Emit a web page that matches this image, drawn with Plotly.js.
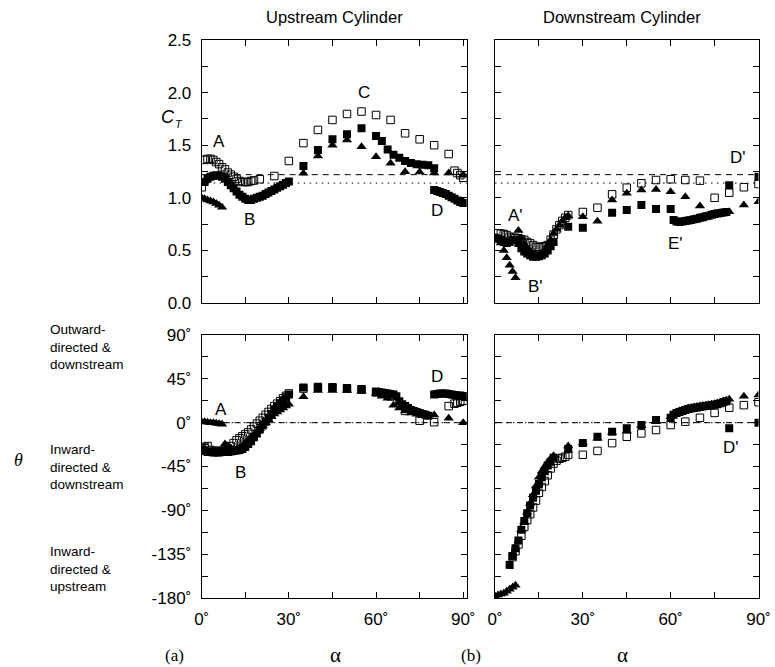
<!DOCTYPE html>
<html><head><meta charset="utf-8">
<script src="https://cdn.plot.ly/plotly-3.0.1.min.js"></script>
<style>html,body{margin:0;padding:0;background:#fff}</style>
</head><body><div id="chart" style="width:775px;height:667px"></div>
<script>
// ---------- DATA ----------
// Upstream cylinder, force coefficient C_T
const usCtOpenA = [0,1,2,3,4,5,6,7,8,9,10,11,12,13,14,15,16,17,18,20,25,30,35,40,45,50,55,60,65,70,75,80,85,87,88,89,90];
const usCtOpen  = [1.10,1.36,1.37,1.37,1.36,1.34,1.32,1.29,1.27,1.24,1.22,1.20,1.18,1.16,1.15,1.15,1.15,1.16,1.165,1.176,1.207,1.35,1.52,1.645,1.74,1.797,1.82,1.787,1.74,1.613,1.556,1.50,1.416,1.258,1.235,1.215,1.19];
const usCtFillA = [1,2,3,4,5,6,7,8,9,10,11,12,13,14,15,16,17,18,19,20,21,22,23,24,25,26,27,28,29,30,35,40,45,50,55,60,62,64,66,68,70,72,74,76,78,80,80,81,82,83,84,85,86,87,88,89,90];
const usCtFill  = [1.15,1.18,1.20,1.21,1.215,1.21,1.20,1.18,1.15,1.12,1.09,1.06,1.03,1.01,0.99,0.98,0.98,0.99,1.00,1.01,1.02,1.035,1.05,1.065,1.08,1.095,1.11,1.125,1.14,1.155,1.302,1.454,1.556,1.603,1.66,1.587,1.54,1.46,1.41,1.38,1.35,1.33,1.32,1.315,1.31,1.28,1.074,1.065,1.055,1.045,1.035,1.02,1.005,0.99,0.975,0.96,0.95];
const usCtTriA  = [0,1,2,3,4,5,6,7,35,40,45,50,55,60,65,70,75,80,85,90];
const usCtTri   = [1.0,0.99,0.98,0.97,0.96,0.945,0.93,0.91,1.233,1.397,1.50,1.55,1.486,1.391,1.328,1.248,1.245,1.235,1.235,1.215];

// Downstream cylinder, C_T
const dsCtOpenA = [1,2,3,4,5,6,7,8,9,10,11,12,13,14,15,16,17,18,19,20,21,22,23,24,25,30,35,40,45,50,55,60,65,70,75,80,85,90];
const dsCtOpen  = [0.662,0.66,0.655,0.646,0.63,0.62,0.62,0.615,0.605,0.60,0.58,0.567,0.55,0.535,0.53,0.535,0.54,0.55,0.60,0.65,0.70,0.74,0.78,0.81,0.836,0.865,0.906,1.033,1.096,1.138,1.169,1.176,1.169,1.163,1.00,1.049,1.10,1.131];
const dsCtFillA = [0,1,2,3,4,5,6,7,8,9,10,11,12,13,14,15,16,17,18,19,20,25,30,40,45,50,55,60,61,62,63,64,65,66,67,68,69,70,71,72,73,74,75,76,77,78,79,80,90];
const dsCtFill  = [0.62,0.61,0.60,0.58,0.57,0.58,0.60,0.60,0.57,0.52,0.49,0.47,0.455,0.44,0.44,0.445,0.455,0.47,0.50,0.54,0.58,0.725,0.716,0.859,0.884,0.932,0.894,0.894,0.79,0.775,0.77,0.775,0.78,0.785,0.79,0.795,0.80,0.81,0.815,0.825,0.83,0.84,0.845,0.85,0.855,0.86,0.865,1.12,1.20];
const dsCtTriA  = [0,1,2,3,4,5,6,7,8,9,10,11,12,13,14,15,16,17,18,19,20,21,22,23,24,25,30,35,40,45,50,55,60,65,70,75,80,85,90];
const dsCtTri   = [0.62,0.60,0.57,0.50,0.43,0.36,0.30,0.24,0.69,0.62,0.56,0.52,0.49,0.47,0.46,0.46,0.47,0.50,0.55,0.60,0.66,0.70,0.74,0.78,0.81,0.83,0.82,0.777,0.979,1.043,1.074,1.08,1.058,1.01,0.922,0.85,0.868,0.932,0.963];

// Upstream cylinder, force angle theta (deg)
const usThOpenA = [0,1,2,3,4,5,6,7,8,9,10,11,12,13,14,15,16,17,18,19,20,21,22,23,24,25,26,27,28,29,30,35,40,45,50,55,60,65,70,75,80,85,87,88,89,90];
const usThOpen  = [-27,-25,-24,-28,-29,-29,-29,-29,-28,-27,-24,-21,-18,-16,-14,-12,-10,-7,-4,-1,2,5,8,11,14,17,19.5,22,25,27.5,30,35,36,36,35,34,31,27,12,2,0.5,17,19.5,20.5,21.5,22.5];
const usThFillA = [0,1,2,3,4,5,6,7,8,9,10,11,12,13,14,15,16,17,18,19,20,21,22,23,24,25,26,27,28,29,30,35,40,45,50,55,60,61,62,63,64,65,66,67,68,69,70,71,72,73,74,75,76,77,78,80,81,82,83,84,85,86,87,88,89,90];
const usThFill  = [-28,-29,-30,-30,-30.5,-30.5,-30.5,-30,-30,-30,-29.5,-29,-28.5,-28,-27,-25,-22,-19,-15,-11,-7,-3,1,5,9,13,16.5,20,23,26,29,36,37,36.5,35.5,34.5,32,31.5,31,30.5,30,29.5,29,27,22,19,17,15,13,12,11,10,9,8,7,29,29.5,30,30,30,29.5,29,28.5,28,28,27.5];
const usThTriA  = [0,1,2,3,4,5,6,7,8,9,10,11,12,13,14,15,16,17,18,19,20,21,22,23,24,25,26,27,28,29,30,35,40,45,50,55,60,62,64,66,68,70,72,74,76,78,80,85,90];
const usThTri   = [1,1,0.5,0,0,-0.5,-1,-1.5,-22,-24,-26,-27,-27,-26,-24,-21,-18,-15,-12,-9,-6,-3,0,3,6,9,11,13,15,17,19,26.7,33,33,33,32,30,27,25,18,15,12,10,8.6,7,6,7.9,4.5,0];

// Downstream cylinder, theta (deg)
const dsThOpenA = [6,7,8,9,10,11,12,13,14,15,16,17,18,19,20,21,22,23,24,25,30,35,40,45,50,55,60,65,70,75,80,85,90];
const dsThOpen  = [-138,-132,-125,-116,-107,-100,-94,-87,-80,-72,-66,-60,-54,-47,-42,-39,-37,-36,-35,-33,-33,-29,-21,-14.5,-11,-7.5,-2.4,1,5,10,15.4,18,21];
const dsThFillA = [5,6,7,8,9,10,11,12,13,14,15,16,17,18,19,20,25,30,35,40,45,50,55,60,61,62,63,64,65,66,67,68,69,70,71,72,73,74,75,76,77,78,79,80,90];
const dsThFill  = [-146,-137,-129,-121,-110,-101,-93,-85,-77,-70,-63,-56,-50,-44,-40,-36,-27,-21,-14.4,-9.2,-5.8,-2.4,2.7,5,8,10,11,12,13,14,14.5,15,15.5,16,16.5,17,17.5,18,18.5,19,20,21,22,-5.8,0];
const dsThTriA  = [0,1,2,3,4,5,6,7,9,10,11,12,13,14,15,16,17,18,19,20,25,30,35,40,45,50,55,60,61,62,63,64,65,66,67,68,69,70,71,72,73,74,75,76,77,78,79,80,85,90];
const dsThTri   = [-178,-177,-176,-175,-173,-171,-169,-167,-110,-102,-92,-83,-74,-65,-56,-50,-45,-41,-37,-34,-24,-21,-16,-10,-8.6,-3,1,6,9,11,12,13,14,15,15.5,16,16.5,17,17.5,18,18.5,19,19.5,20,21,22,23,24,27,28.5];

// Reference levels
const ctRefDashed = 1.22;
const ctRefDotted = 1.14;
const thRef = 0;

// Tick labels
const ctTickVals = [0,0.5,1,1.5,2,2.5];
const ctTickText = ['0.0','0.5','1.0','1.5','2.0','2.5'];
const thTickVals = [-180,-135,-90,-45,0,45,90];
const thTickText = ['-180˚','-135˚','-90˚','-45˚','0˚','45˚','90˚'];
const alphaTickVals = [0,30,60,90];
const alphaTickText = ['0˚','30˚','60˚','90˚'];

// ---------- BUILD ----------
const W = 775, H = 667;
const px = x => x / W, py = y => 1 - y / H;

function sq(xs, ys, xa, ya){ return {x: xs, y: ys, xaxis: xa, yaxis: ya, type:'scatter', mode:'markers',
  marker:{symbol:'square', size:8, color:'#000', line:{width:0}}, hoverinfo:'skip'}; }
function osq(xs, ys, xa, ya){ return {x: xs, y: ys, xaxis: xa, yaxis: ya, type:'scatter', mode:'markers',
  marker:{symbol:'square-open', size:7.5, color:'#000', line:{width:1, color:'#000'}}, hoverinfo:'skip'}; }
function tri(xs, ys, xa, ya){ return {x: xs, y: ys, xaxis: xa, yaxis: ya, type:'scatter', mode:'markers',
  marker:{symbol:'triangle-up', size:9, color:'#000', line:{width:0}}, hoverinfo:'skip'}; }

const data = [
  osq(usCtOpenA, usCtOpen, 'x', 'y'), sq(usCtFillA, usCtFill, 'x', 'y'), tri(usCtTriA, usCtTri, 'x', 'y'),
  osq(dsCtOpenA, dsCtOpen, 'x2', 'y2'), sq(dsCtFillA, dsCtFill, 'x2', 'y2'), tri(dsCtTriA, dsCtTri, 'x2', 'y2'),
  osq(usThOpenA, usThOpen, 'x3', 'y3'), sq(usThFillA, usThFill, 'x3', 'y3'), tri(usThTriA, usThTri, 'x3', 'y3'),
  osq(dsThOpenA, dsThOpen, 'x4', 'y4'), sq(dsThFillA, dsThFill, 'x4', 'y4'), tri(dsThTriA, dsThTri, 'x4', 'y4')
];

const FONT = 'Liberation Sans, Arial, sans-serif';
const SERIF = 'Liberation Serif, Times New Roman, serif';

function xax(dom, anchor, labels, rmax){
  return {domain: dom, anchor: anchor, range:[0, rmax], showline:true, mirror:'ticks', linecolor:'#000', linewidth:1,
    ticks:'inside', ticklen:6, tickwidth:1, tickcolor:'#000', tickvals: alphaTickVals, ticktext: alphaTickText,
    showticklabels: labels, tickfont:{family:FONT, size:17, color:'#000'}, showgrid:false, zeroline:false,
    ticklabelstandoff: 6,
    minor:{dtick:15, tick0:0, ticks:'inside', ticklen:6, tickwidth:1, tickcolor:'#000', showgrid:false}, fixedrange:true};
}
function yax(dom, anchor, range, tv, tt, minorDt, labels){
  return {domain: dom, anchor: anchor, range: range, showline:true, mirror:'ticks', linecolor:'#000', linewidth:1,
    ticks:'inside', ticklen:6, tickwidth:1, tickcolor:'#000', tickvals: tv, ticktext: tt,
    showticklabels: labels, tickfont:{family:FONT, size:17, color:'#000'}, showgrid:false, zeroline:false,
    ticklabelstandoff: 6,
    minor:{dtick:minorDt, tick0:0, ticks:'inside', ticklen:6, tickwidth:1, tickcolor:'#000', showgrid:false}, fixedrange:true};
}

const xL = [px(201.7), px(466.7)], xR = [px(495), px(758.5)];
const yT = [py(303), py(40)], yB = [py(598), py(335)];

function hline(xref, yref, val, dash){
  return {type:'line', xref: xref + ' domain', yref: yref, x0:0, x1:1, y0: val, y1: val,
    line:{color:'#000', width:1, dash: dash}, layer:'below'};
}

const shapes = [
  hline('x','y', ctRefDashed, '6px,5px'), hline('x','y', ctRefDotted, '1.5px,4.5px'),
  hline('x2','y2', ctRefDashed, '6px,5px'), hline('x2','y2', ctRefDotted, '1.5px,4.5px'),
  hline('x3','y3', thRef, '6px,5px'), hline('x3','y3', thRef, '1.5px,4.5px'),
  hline('x4','y4', thRef, '6px,5px'), hline('x4','y4', thRef, '1.5px,4.5px')
];

function lab(text, x, y, size, family, extra){
  return Object.assign({text: text, xref:'paper', yref:'paper', x: px(x), y: py(y), showarrow:false,
    xanchor:'center', yanchor:'middle', font:{family: family || FONT, size: size || 17, color:'#000'}}, extra || {});
}

const annotations = [
  lab('Upstream Cylinder', 334, 17, 16.5),
  lab('Downstream Cylinder', 622, 17, 16.5),
  lab('<i>C</i>', 168, 117, 18),
  lab('<i>T</i>', 179, 124, 11),
  lab('<i>θ</i>', 18, 460, 18, SERIF),
  lab('(a)', 174, 655, 17, SERIF),
  lab('α', 335, 655, 21, SERIF),
  lab('(b)', 471, 655, 17, SERIF),
  lab('α', 622, 655, 21, SERIF),
  lab('Outward-<br>directed &<br>downstream', 48, 347, 13.5, FONT, {xanchor:'left', align:'left'}),
  lab('Inward-<br>directed &<br>downstream', 48, 467, 13.5, FONT, {xanchor:'left', align:'left'}),
  lab('Inward-<br>directed &<br>upstream', 48, 569, 13.5, FONT, {xanchor:'left', align:'left'}),
  lab('A', 219, 141, 17), lab('B', 249, 220, 17), lab('C', 364, 92, 17), lab('D', 437, 210, 17),
  lab("A'", 515, 215, 17), lab("B'", 535, 286, 17), lab("E'", 675, 243, 17), lab("D'", 738, 158, 17),
  lab('A', 221, 409, 17), lab('B', 240, 473, 17), lab('D', 437, 377, 17),
  lab("D'", 731, 447, 17)
];

const layout = {
  width: W, height: H, margin:{l:0, r:0, t:0, b:0}, showlegend:false,
  paper_bgcolor:'#fff', plot_bgcolor:'#fff', font:{family:FONT, color:'#000'},
  xaxis: xax(xL, 'y', false, 91.2),
  yaxis: yax(yT, 'x', [0, 2.5], ctTickVals, ctTickText, 0.25, true),
  xaxis2: xax(xR, 'y2', false, 90),
  yaxis2: yax(yT, 'x2', [0, 2.5], ctTickVals, ctTickText, 0.25, false),
  xaxis3: xax(xL, 'y3', true, 91.2),
  yaxis3: yax(yB, 'x3', [-180, 90], thTickVals, thTickText, 22.5, true),
  xaxis4: xax(xR, 'y4', true, 90),
  yaxis4: yax(yB, 'x4', [-180, 90], thTickVals, thTickText, 22.5, false),
  shapes: shapes, annotations: annotations
};

Plotly.newPlot('chart', data, layout, {staticPlot:true, displayModeBar:false});
</script></body></html>
